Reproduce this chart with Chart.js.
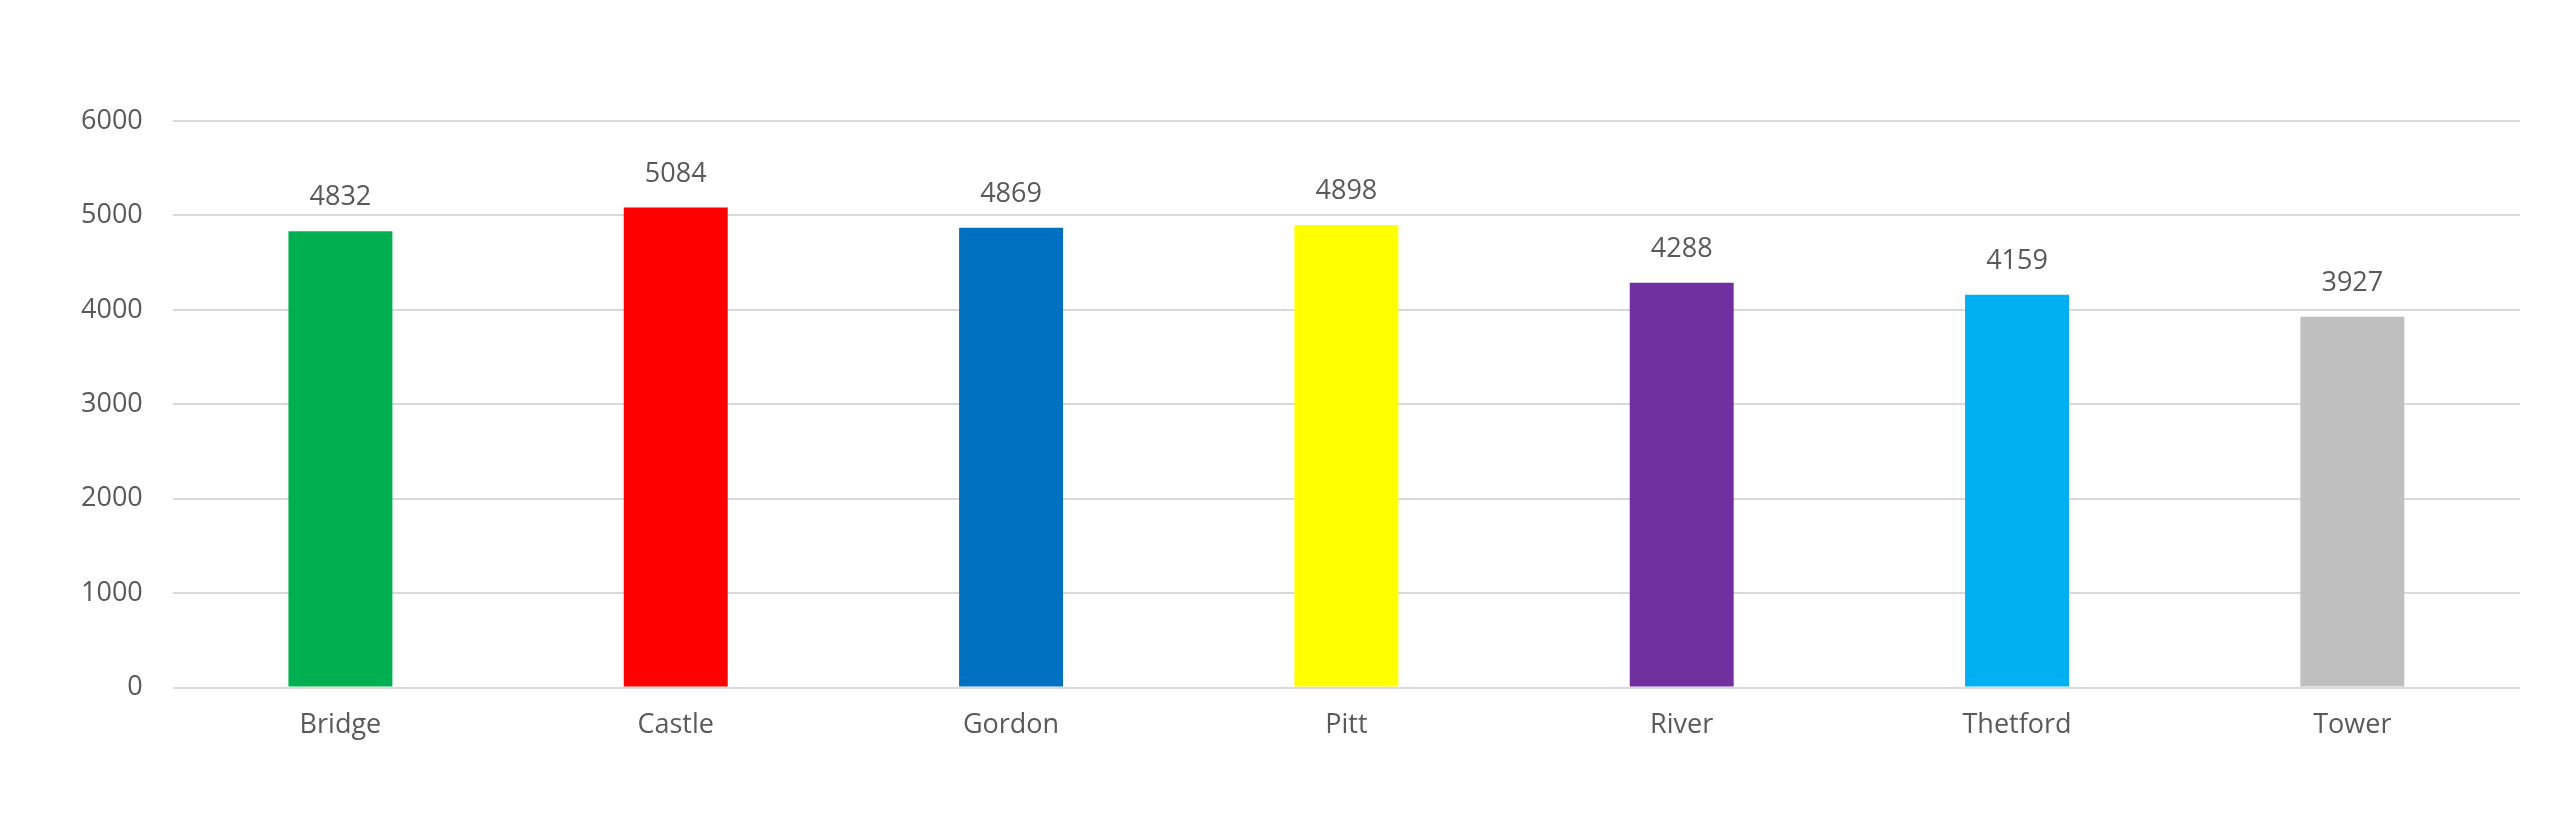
<!DOCTYPE html>
<html>
<head>
<meta charset="utf-8">
<script src="https://cdn.jsdelivr.net/npm/chart.js@4/dist/chart.umd.min.js"></script>
<style>
  html, body { margin: 0; padding: 0; background: #fff; }
  #wrap { width: 2560px; height: 825px; }
</style>
</head>
<body>
<div id="wrap"><canvas id="chart-sites"></canvas></div>
<script>
const sites = ['Bridge', 'Castle', 'Gordon', 'Pitt', 'River', 'Thetford', 'Tower'];
const totals = [4832, 5084, 4869, 4898, 4288, 4159, 3927];
const barColours = ['#00B050', '#FF0000', '#0070C0', '#FFFF00', '#7030A0', '#00B0F0', '#BFBFBF'];
const yTicks = [0, 1000, 2000, 3000, 4000, 5000, 6000];

const textColour = '#595959';
const fontFamily = '"Open Sans", "Liberation Sans", sans-serif';

// value labels over each bar
const barValues = {
  id: 'barValues',
  afterDatasetsDraw(chart) {
    const ctx = chart.ctx;
    const meta = chart.getDatasetMeta(0);
    ctx.save();
    ctx.fillStyle = textColour;
    ctx.font = '27px ' + fontFamily;
    ctx.textAlign = 'center';
    ctx.textBaseline = 'bottom';
    meta.data.forEach((bar, i) => {
      ctx.fillText(String(chart.data.datasets[0].data[i]), bar.x, bar.y - 20);
    });
    ctx.restore();
  }
};

new Chart(document.getElementById('chart-sites'), {
  type: 'bar',
  data: {
    labels: sites,
    datasets: [{
      label: 'Total',
      data: totals,
      backgroundColor: barColours,
      borderWidth: 0,
      categoryPercentage: 1,
      barPercentage: 0.31
    }]
  },
  options: {
    responsive: true,
    maintainAspectRatio: false,
    animation: false,
    layout: { padding: { top: 121, left: 51, right: 40, bottom: 61 } },
    plugins: {
      legend: { display: false },
      tooltip: { enabled: false }
    },
    scales: {
      x: {
        grid: { display: false, drawTicks: false },
        border: { display: false },
        ticks: { color: textColour, font: { family: fontFamily, size: 27 }, padding: 22 }
      },
      y: {
        min: 0,
        max: 6000,
        afterBuildTicks(axis) { axis.ticks = yTicks.map(v => ({ value: v })); },
        grid: { color: '#D9D9D9', lineWidth: 2, drawTicks: false },
        border: { display: false },
        ticks: {
          color: textColour,
          font: { family: fontFamily, size: 27 },
          padding: 30,
          callback: v => String(v)
        }
      }
    }
  },
  plugins: [barValues]
});
</script>
</body>
</html>
